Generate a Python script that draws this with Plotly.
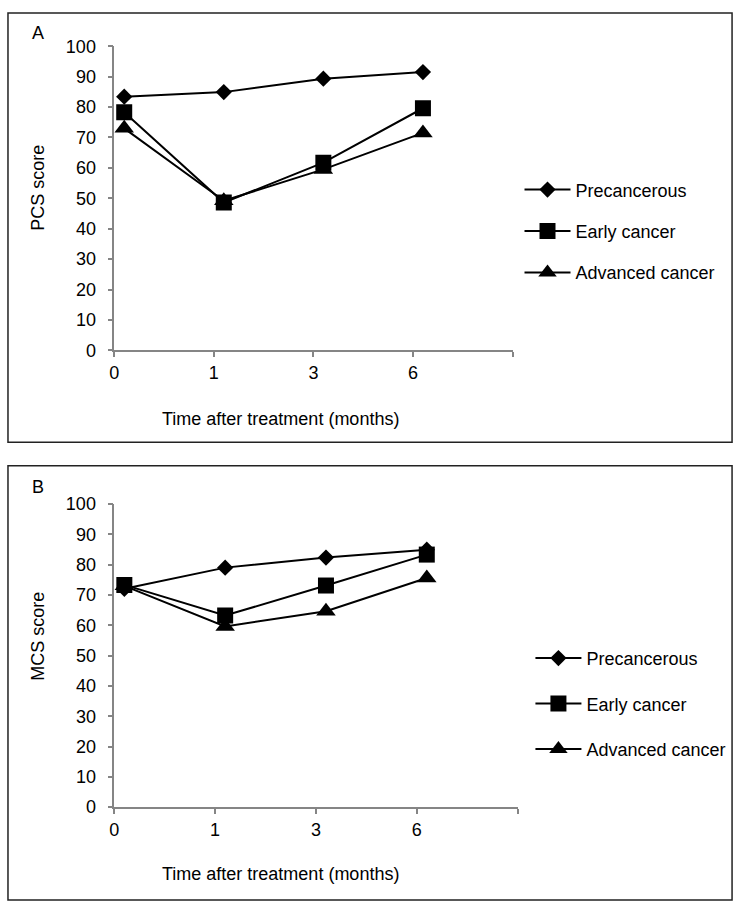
import plotly.graph_objects as go

# ---- data ----
time_labels = ["0", "1", "3", "6"]
series_names = ["Precancerous", "Early cancer", "Advanced cancer"]
pcs_precancerous = [83.4, 84.9, 89.3, 91.5]
pcs_early = [78.3, 48.6, 61.7, 79.6]
pcs_advanced = [73.0, 49.2, 59.5, 71.5]
mcs_precancerous = [72.0, 79.0, 82.3, 84.9]
mcs_early = [73.3, 63.2, 73.1, 83.3]
mcs_advanced = [73.0, 59.6, 64.6, 75.6]
y_ticks = list(range(0, 101, 10))

symbols = ["diamond", "square", "triangle-up"]
sizes = [12.5, 16, 17]

W, H = 741, 914
FONT = "Liberation Sans, Arial, sans-serif"

def px(x):
    return x / W

def py(y):
    return 1 - y / H

idx = list(range(len(time_labels)))
offset = 0.1  # Excel-style: points sit slightly right of the category tick
tickvals = [i - offset for i in idx] + [len(idx) - offset]
ticktext = time_labels + [""]

fig = go.Figure()

panels = [
    dict(data=[pcs_precancerous, pcs_early, pcs_advanced], xa="x", ya="y", legend="legend"),
    dict(data=[mcs_precancerous, mcs_early, mcs_advanced], xa="x2", ya="y2", legend="legend2"),
]
for p in panels:
    for k, (name, vals) in enumerate(zip(series_names, p["data"])):
        fig.add_trace(go.Scatter(
            x=idx, y=vals, name=name, mode="lines+markers",
            xaxis=p["xa"], yaxis=p["ya"], legend=p["legend"],
            legendgroup=p["legend"] + str(k),
            line=dict(color="black", width=2),
            marker=dict(symbol=symbols[k], size=sizes[k], color="black"),
        ))

axis_common = dict(
    showline=True, linecolor="#858585", linewidth=1.5,
    ticks="outside", tickcolor="#858585", ticklen=5, tickwidth=1.5,
    showgrid=False, zeroline=False,
    tickfont=dict(family=FONT, size=18, color="black"),
)

fig.update_layout(
    width=W, height=H,
    margin=dict(l=0, r=0, t=0, b=0),
    paper_bgcolor="white", plot_bgcolor="white",
    font=dict(family=FONT, size=18, color="black"),
    showlegend=True,
    xaxis=dict(domain=[px(110), px(511)], anchor="y", range=[-offset, len(idx) - offset],
               tickmode="array", tickvals=tickvals, ticktext=ticktext, **axis_common),
    yaxis=dict(domain=[py(348), py(37)], anchor="x", range=[0, 100], ticklabelstandoff=8,
               tickmode="array", tickvals=y_ticks, **axis_common),
    xaxis2=dict(domain=[px(110), px(516)], anchor="y2", range=[-offset, len(idx) - offset],
                tickmode="array", tickvals=tickvals, ticktext=ticktext, **axis_common),
    yaxis2=dict(domain=[py(815), py(505)], anchor="x2", range=[0, 100], ticklabelstandoff=8,
                tickmode="array", tickvals=y_ticks, **axis_common),
    legend=dict(x=px(518), y=py(165), xanchor="left", yanchor="top", itemwidth=46,
                traceorder="grouped", tracegroupgap=15, bgcolor="rgba(0,0,0,0)",
                font=dict(family=FONT, size=18, color="black")),
    legend2=dict(x=px(529), y=py(644), xanchor="left", yanchor="top", itemwidth=46,
                 traceorder="grouped", tracegroupgap=19, bgcolor="rgba(0,0,0,0)",
                 font=dict(family=FONT, size=18, color="black")),
)

# panel borders
for (x0, y0, x1, y1) in [(3, 3, 732, 442), (3, 466, 732, 910)]:
    fig.add_shape(type="rect", xref="paper", yref="paper",
                  x0=px(x0), x1=px(x1), y0=py(y1), y1=py(y0),
                  line=dict(color="#222222", width=1.5), fillcolor="rgba(0,0,0,0)")

annots = [
    ("A", 33, 24, 0),
    ("B", 33, 488, 0),
    ("Time after treatment (months)", 277, 418, 0),
    ("Time after treatment (months)", 277, 883, 0),
    ("PCS score", 33, 182, -90),
    ("MCS score", 33, 640, -90),
]
for text, x, y, ang in annots:
    fig.add_annotation(text=text, x=px(x), y=py(y), xref="paper", yref="paper",
                       showarrow=False, textangle=ang, xanchor="center", yanchor="middle",
                       font=dict(family=FONT, size=18, color="black"))

post = (
    "document.documentElement.style.margin='0';"
    "document.body.style.margin='0';document.body.style.padding='0';"
    "document.body.style.overflow='hidden';"
    "var d=document.getElementById('{plot_id}');"
    "d.style.position='absolute';d.style.left='0px';d.style.top='0px';"
)
fig.write_html("out.html", post_script=post, config={"displayModeBar": False})
